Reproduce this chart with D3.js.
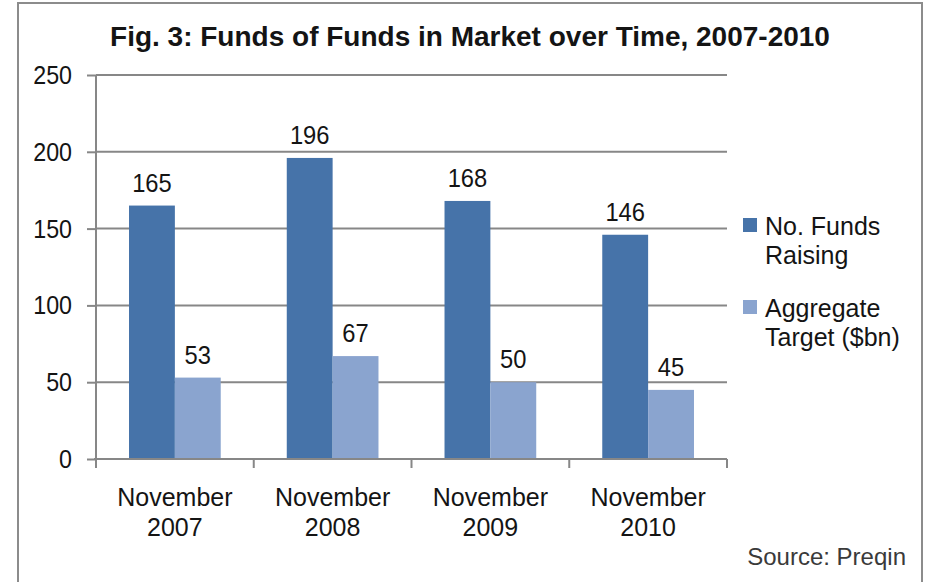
<!DOCTYPE html>
<html>
<head>
<meta charset="utf-8">
<script src="https://cdn.jsdelivr.net/npm/d3@7"></script>
<style>
  html, body { margin: 0; padding: 0; background: #fff; }
  svg { display: block; }
  text { font-family: "Liberation Sans", Arial, sans-serif; fill: #141414; }
</style>
</head>
<body>
<svg id="chart" width="930" height="582"></svg>
<script>
// Funds of funds in market, November snapshots
const categories = [["November", "2007"], ["November", "2008"], ["November", "2009"], ["November", "2010"]];
const seriesNames = [["No. Funds", "Raising"], ["Aggregate", "Target ($bn)"]];
const fundsRaising = [165, 196, 168, 146];
const aggregateTarget = [53, 67, 50, 45];
const yTicks = [0, 50, 100, 150, 200, 250];
const titleText = "Fig. 3: Funds of Funds in Market over Time, 2007-2010";
const sourceText = "Source: Preqin";

const colors = ["#4673a9", "#8aa4cf"];
const gridColor = "#878787";

const svg = d3.select("#chart");

// outer frame
svg.append("rect")
  .attr("x", 18).attr("y", 3)
  .attr("width", 904).attr("height", 600)
  .attr("fill", "none").attr("stroke", "#8c8c8c").attr("stroke-width", 2);

const plot = { left: 96, right: 727, top: 75, bottom: 459 };

const keys = categories.map(c => c.join(" "));
const x0 = d3.scaleBand().domain(keys).range([plot.left, plot.right]).paddingInner(0).paddingOuter(0);
const x1 = d3.scaleBand().domain([0, 1]).range([0, x0.bandwidth()]).paddingInner(0).paddingOuter(0.72);
const y = d3.scaleLinear().domain([0, 250]).range([plot.bottom, plot.top]);

// helper: text with optional horizontal squeeze
function label(g, x, yy, str, opts = {}) {
  const sx = opts.sx || 1;
  return g.append("text")
    .attr("transform", `translate(${x},${yy}) scale(${sx},1)`)
    .attr("text-anchor", opts.anchor || "middle")
    .attr("font-size", opts.size || 25)
    .attr("font-weight", opts.weight || "normal")
    .style("fill", opts.fill || null)
    .text(str);
}

// title
label(svg, 470, 46, titleText, { size: 28, weight: "bold", sx: 1.0 });

// gridlines
svg.append("g").selectAll("line")
  .data(yTicks.filter(t => t > 0))
  .join("line")
  .attr("x1", plot.left).attr("x2", plot.right)
  .attr("y1", d => y(d)).attr("y2", d => y(d))
  .attr("stroke", gridColor).attr("stroke-width", 2);

// y axis
const yAxis = svg.append("g")
  .attr("transform", `translate(${plot.left},0)`)
  .call(d3.axisLeft(y).tickValues(yTicks).tickSize(9).tickPadding(0).tickFormat(""));
yAxis.select(".domain").attr("stroke", gridColor).attr("stroke-width", 2)
  .attr("d", `M0,${plot.top}V${plot.bottom + 4}`);
yAxis.selectAll(".tick line").attr("stroke", gridColor).attr("stroke-width", 2);
yTicks.forEach(t => label(svg, 72, y(t) + 9, String(t), { anchor: "end", size: 25, sx: 0.93 }));

// bars
const groups = svg.append("g").selectAll("g")
  .data(keys)
  .join("g")
  .attr("transform", d => `translate(${x0(d)},0)`);

const barData = (d, i) => [fundsRaising[i], aggregateTarget[i]].map((v, s) => ({ v, s }));
groups.each(function (d, i) {
  const g = d3.select(this);
  g.selectAll("rect")
    .data(barData(d, i))
    .join("rect")
    .attr("x", b => x1(b.s))
    .attr("width", x1.bandwidth())
    .attr("y", b => y(b.v))
    .attr("height", b => y(0) - y(b.v))
    .attr("fill", b => colors[b.s]);
  barData(d, i).forEach(b => {
    label(g, x1(b.s) + x1.bandwidth() / 2, y(b.v) - 14, String(b.v), { size: 25, sx: 0.95 });
  });
});

// x axis
const xAxis = svg.append("g")
  .attr("transform", `translate(0,${plot.bottom})`);
xAxis.append("line")
  .attr("x1", plot.left - 2).attr("x2", plot.right)
  .attr("stroke", gridColor).attr("stroke-width", 2);
const bounds = keys.map(k => x0(k)).concat([plot.right]);
xAxis.selectAll("line.tk")
  .data(bounds)
  .join("line")
  .attr("class", "tk")
  .attr("x1", d => d).attr("x2", d => d)
  .attr("y1", 0).attr("y2", 9)
  .attr("stroke", gridColor).attr("stroke-width", 2);

categories.forEach((c, i) => {
  const cx = x0(keys[i]) + x0.bandwidth() / 2;
  label(svg, cx, 506, c[0], { size: 25 });
  label(svg, cx, 536, c[1], { size: 25 });
});

// legend
const legend = svg.append("g");
const legendTop = [218, 300];
seriesNames.forEach((names, s) => {
  legend.append("rect")
    .attr("x", 743).attr("y", legendTop[s])
    .attr("width", 14).attr("height", 14)
    .attr("fill", colors[s]);
  label(legend, 765, legendTop[s] + 17, names[0], { anchor: "start", size: 25 });
  label(legend, 765, legendTop[s] + 46, names[1], { anchor: "start", size: 25 });
});

// source note
label(svg, 906, 565, sourceText, { anchor: "end", size: 24, fill: "#3a3a3a" });
</script>
</body>
</html>
